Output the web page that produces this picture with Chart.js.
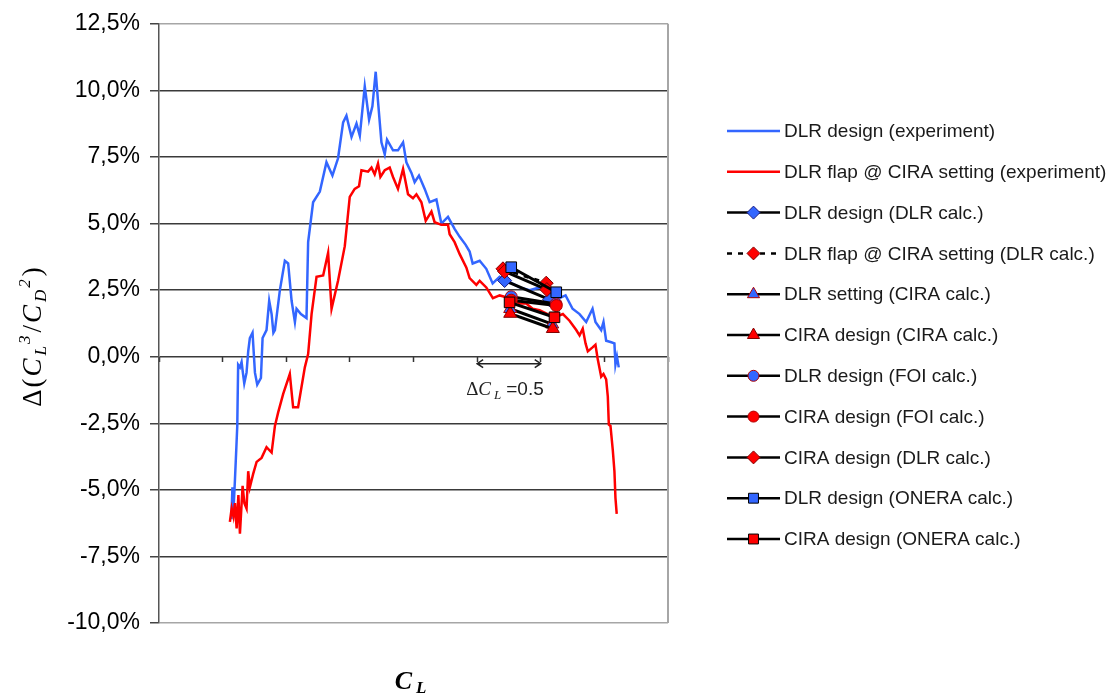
<!DOCTYPE html>
<html>
<head>
<meta charset="utf-8">
<title>Delta CL3/CD2 vs CL</title>
<script src="https://cdn.jsdelivr.net/npm/chart.js@4.4.1/dist/chart.umd.min.js"></script>
<style>
  html, body { margin: 0; padding: 0; background: #fff; }
  #wrap { width: 1115px; height: 694px; position: relative; }
</style>
</head>
<body>
<div id="wrap"><canvas id="chart"></canvas></div>
<script>
// experiment curves: CL and delta(CL^3/CD^2) in %
const dlrExpCL = [0.569,0.577,0.585,0.597,0.608,0.615,0.622,0.636,0.649,0.659,0.670,0.688,0.701,0.714,0.735,0.754,0.772,0.801,0.814,0.845,0.866,0.885,0.899,0.911,0.950,0.989,1.015,1.042,1.068,1.081,1.115,1.159,1.172,1.211,1.264,1.316,1.363,1.407,1.447,1.473,1.513,1.552,1.578,1.617,1.651,1.677,1.703,1.721,1.748,1.774,1.792,1.839,1.878,1.918,1.944,1.984,2.009,2.043,2.088,2.127,2.180,2.219,2.271,2.323,2.363,2.410,2.441,2.465,2.520,2.572,2.622,2.677,2.755,2.834,2.912,2.991,3.069,3.148,3.195,3.250,3.305,3.357,3.407,3.430,3.475,3.493,3.514,3.548,3.579,3.587,3.599,3.613];
const dlrExpVal = [-6.1,-4.9,-5.8,-4.6,-3.4,-2.6,-0.3,-0.4,-0.2,-0.6,-1.0,-0.6,0.2,0.7,0.9,-0.6,-1.05,-0.8,0.7,1.0,2.1,1.6,0.9,1.0,2.5,3.6,3.5,2.1,1.3,1.8,1.6,1.45,4.3,5.8,6.2,7.3,6.8,7.45,8.8,9.05,8.25,8.75,8.3,10.15,8.9,9.4,10.7,9.6,8.05,7.6,8.15,7.75,7.75,8.05,7.3,6.9,6.55,6.8,6.3,5.8,5.9,5.0,5.25,4.8,4.5,4.2,3.95,3.5,3.6,3.3,2.75,3.0,2.8,2.6,2.5,2.6,2.4,2.2,2.3,1.8,1.6,1.3,1.8,1.3,1.0,1.3,0.6,0.55,0.5,-0.3,0.0,-0.4];

const flapExpCL = [0.557,0.571,0.585,0.597,0.610,0.624,0.636,0.657,0.671,0.688,0.701,0.714,0.740,0.767,0.806,0.845,0.885,0.911,0.936,0.976,1.028,1.054,1.093,1.146,1.172,1.199,1.238,1.290,1.329,1.356,1.407,1.460,1.499,1.538,1.572,1.591,1.643,1.670,1.695,1.721,1.740,1.774,1.813,1.839,1.878,1.918,1.957,1.996,2.023,2.062,2.096,2.141,2.166,2.219,2.271,2.284,2.323,2.363,2.415,2.441,2.494,2.520,2.572,2.624,2.677,2.755,2.834,2.886,2.936,2.991,3.053,3.122,3.174,3.226,3.279,3.305,3.330,3.352,3.370,3.407,3.430,3.448,3.475,3.493,3.514,3.527,3.535,3.548,3.566,3.579,3.587,3.597];
const flapExpVal = [-6.2,-5.7,-6.0,-5.5,-6.45,-5.2,-6.65,-4.85,-5.5,-5.7,-4.3,-4.9,-4.4,-3.95,-3.8,-3.4,-3.6,-2.6,-2.1,-1.4,-0.65,-1.9,-1.9,-0.4,0.1,1.6,3.0,3.05,3.9,1.8,2.85,4.15,6.0,6.3,6.4,7.0,6.95,7.1,6.85,7.25,6.75,7.0,7.1,6.75,6.3,7.05,6.1,5.95,6.1,5.8,5.1,5.45,5.05,4.95,4.95,4.6,4.3,3.85,3.35,2.95,2.7,2.85,2.6,2.2,2.3,2.2,2.0,2.0,1.8,1.75,1.6,1.5,1.6,1.35,1.0,0.8,1.05,0.5,0.2,0.35,0.45,-0.1,-0.75,-0.65,-0.85,-1.5,-2.55,-2.6,-3.5,-4.3,-5.3,-5.9];

// calculations, two points each (low CL, high CL)
const calcLabels = [
  'DLR design (DLR calc.)',
  'DLR flap @ CIRA setting (DLR calc.)',
  'DLR setting (CIRA calc.)',
  'CIRA design (CIRA calc.)',
  'DLR design (FOI calc.)',
  'CIRA design (FOI calc.)',
  'CIRA design (DLR calc.)',
  'DLR design (ONERA calc.)',
  'CIRA design (ONERA calc.)'
];
const calcCL = [
  [2.716, 3.069], [2.703, 3.043], [2.760, 3.090], [2.760, 3.095], [2.768, 3.120],
  [2.768, 3.122], [2.716, 3.048], [2.768, 3.122], [2.755, 3.108]
];
const calcVal = [
  [2.86, 2.14], [3.30, 2.76], [1.80, 1.22], [1.62, 1.05], [2.25, 1.98],
  [2.12, 1.92], [3.20, 2.52], [3.36, 2.42], [2.04, 1.48]
];

const yTicks = [-10, -7.5, -5, -2.5, 0, 2.5, 5, 7.5, 10, 12.5];
const xTicks = [0, 0.5, 1, 1.5, 2, 2.5, 3, 3.5, 4];

// marker look for each calculation
const BLUE = '#3366ff', RED = '#ff0000';
const calcStyles = [
  { shape: 'rectRot', r: 7, fill: BLUE, edge: '#1a1a80' },
  { shape: 'rectRot', r: 7, fill: RED, edge: '#800000', dash: [5, 6] },
  { shape: 'triangle', r: 7.5, fill: BLUE, edge: '#b00000' },
  { shape: 'triangle', r: 7.5, fill: RED, edge: '#800000' },
  { shape: 'circle', r: 6, fill: BLUE, edge: '#b00000' },
  { shape: 'circle', r: 6, fill: RED, edge: '#b00000' },
  { shape: 'rectRot', r: 7, fill: RED, edge: '#800000' },
  { shape: 'rect', r: 7.5, fill: BLUE, edge: '#000' },
  { shape: 'rect', r: 7.5, fill: RED, edge: '#000' }
];

function pts(xs, ys) {
  return xs.map((x, i) => ({ x: x, y: ys[i] }));
}

const datasets = [
  { label: 'DLR design (experiment)', data: pts(dlrExpCL, dlrExpVal), borderColor: BLUE, borderWidth: 2.5, pointRadius: 0 },
  { label: 'DLR flap @ CIRA setting (experiment)', data: pts(flapExpCL, flapExpVal), borderColor: RED, borderWidth: 2.5, pointRadius: 0 }
];
calcLabels.forEach((lab, i) => {
  const s = calcStyles[i];
  datasets.push({
    label: lab,
    data: pts(calcCL[i], calcVal[i]),
    borderColor: '#000',
    borderWidth: 3,
    borderDash: s.dash || [],
    pointStyle: s.shape,
    pointRadius: s.r,
    pointHoverRadius: s.r,
    pointBackgroundColor: s.fill,
    pointBorderColor: s.edge,
    pointBorderWidth: 1
  });
});
// later series on top, like the spreadsheet
datasets.forEach((d, i) => { d.order = datasets.length - i; d.tension = 0; d.fill = false; });

function richText(ctx, runs, x, y, align) {
  let w = 0;
  runs.forEach(r => { ctx.font = r.font; w += ctx.measureText(r.t).width + (r.gap || 0); });
  let cx = align === 'center' ? x - w / 2 : x;
  runs.forEach(r => {
    ctx.font = r.font;
    ctx.fillText(r.t, cx, y + (r.dy || 0));
    cx += ctx.measureText(r.t).width + (r.gap || 0);
  });
}

const SERIF = '"Liberation Serif", "Times New Roman", serif';
const SANS = '"Liberation Sans", Arial, sans-serif';

const extras = {
  id: 'extras',
  afterDraw(chart) {
    const ctx = chart.ctx;
    const a = chart.chartArea;
    const xs = chart.scales.x, ys = chart.scales.y;
    ctx.save();

    // right frame of the plot area
    ctx.strokeStyle = '#a6a6a6';
    ctx.lineWidth = 2;
    ctx.beginPath();
    ctx.moveTo(a.right, a.top);
    ctx.lineTo(a.right, a.bottom);
    ctx.stroke();

    // delta CL = 0.5 arrow
    const ax1 = xs.getPixelForValue(2.5), ax2 = xs.getPixelForValue(3.0);
    const ay = ys.getPixelForValue(0) + 7;
    ctx.strokeStyle = '#222';
    ctx.lineWidth = 1.5;
    ctx.beginPath();
    ctx.moveTo(ax1, ay); ctx.lineTo(ax2, ay);
    ctx.moveTo(ax1 + 6, ay - 4); ctx.lineTo(ax1, ay); ctx.lineTo(ax1 + 6, ay + 4);
    ctx.moveTo(ax2 - 6, ay - 4); ctx.lineTo(ax2, ay); ctx.lineTo(ax2 - 6, ay + 4);
    ctx.stroke();

    ctx.fillStyle = '#222';
    ctx.textBaseline = 'alphabetic';
    richText(ctx, [
      { t: '\u0394', font: '19px ' + SERIF },
      { t: 'C', font: 'italic 19px ' + SERIF, gap: 3 },
      { t: 'L', font: 'italic 13px ' + SERIF, dy: 4, gap: 5 },
      { t: '=0.5', font: '19px ' + SANS }
    ], ax1 - 11, ay + 31, 'left');

    // axis titles
    ctx.fillStyle = '#000';
    richText(ctx, [
      { t: 'C', font: 'italic bold 26px ' + SERIF, gap: 4 },
      { t: 'L', font: 'italic bold 17px ' + SERIF, dy: 4 }
    ], (a.left + a.right) / 2 - 3, 689, 'center');

    ctx.save();
    ctx.translate(32, 337);
    ctx.rotate(-Math.PI / 2);
    richText(ctx, [
      { t: '\u0394', font: '27px ' + SERIF, gap: 2 },
      { t: '(', font: '27px ' + SERIF, gap: 2 },
      { t: 'C', font: 'italic 27px ' + SERIF, gap: 3 },
      { t: 'L', font: 'italic 17px ' + SERIF, dy: 5, gap: 2 },
      { t: '3', font: 'italic 17px ' + SERIF, dy: -11, gap: 3 },
      { t: '/', font: '27px ' + SERIF, gap: 2 },
      { t: 'C', font: 'italic 27px ' + SERIF, gap: 3 },
      { t: 'D', font: 'italic 17px ' + SERIF, dy: 5, gap: 2 },
      { t: '2', font: 'italic 17px ' + SERIF, dy: -11, gap: 3 },
      { t: ')', font: '27px ' + SERIF }
    ], 0, 9, 'center');
    ctx.restore();

    // legend on the right
    const lx0 = a.right + 59, lx1 = lx0 + 53;
    ctx.textBaseline = 'middle';
    chart.data.datasets.forEach((ds, i) => {
      const y = 131 + i * 40.8;
      ctx.strokeStyle = ds.borderColor;
      ctx.lineWidth = 2.5;
      ctx.setLineDash(ds.borderDash || []);
      ctx.beginPath();
      ctx.moveTo(lx0, y);
      ctx.lineTo(lx1, y);
      ctx.stroke();
      ctx.setLineDash([]);
      if (ds.pointRadius > 0) {
        ctx.fillStyle = ds.pointBackgroundColor;
        ctx.strokeStyle = ds.pointBorderColor;
        ctx.lineWidth = 1;
        Chart.helpers.drawPoint(ctx, { pointStyle: ds.pointStyle, radius: ds.pointRadius - 0.5, rotation: 0, borderWidth: 1 }, (lx0 + lx1) / 2, y);
      }
      ctx.fillStyle = '#1a1a1a';
      ctx.font = '19px ' + SANS;
      ctx.fillText(ds.label, lx1 + 4, y + 1);
    });

    ctx.restore();
  }
};

new Chart(document.getElementById('chart').getContext('2d'), {
  type: 'line',
  data: { datasets: datasets },
  options: {
    responsive: true,
    maintainAspectRatio: false,
    animation: false,
    events: [],
    layout: { padding: { top: 21.5, bottom: 71, left: 0, right: 447 } },
    plugins: {
      legend: { display: false },
      tooltip: { enabled: false }
    },
    scales: {
      x: {
        type: 'linear',
        min: 0,
        max: 4,
        position: { y: 0 },
        afterBuildTicks(axis) { axis.ticks = xTicks.map(v => ({ value: v })); },
        ticks: { display: false },
        grid: { drawOnChartArea: false, drawTicks: true, tickLength: 5, tickColor: '#333', tickWidth: 1.5 },
        border: { display: false }
      },
      y: {
        type: 'linear',
        min: -10,
        max: 12.5,
        afterBuildTicks(axis) { axis.ticks = yTicks.map(v => ({ value: v })); },
        afterFit(axis) { axis.width = 159; },
        ticks: {
          callback: v => v.toFixed(1).replace('.', ',') + '%',
          font: { family: SANS, size: 23 },
          color: '#000',
          padding: 10
        },
        grid: {
          color: c => (c.tick && (c.tick.value === 12.5 || c.tick.value === -10)) ? '#a6a6a6' : '#3a3a3a',
          lineWidth: 1.5,
          tickLength: 9,
          tickColor: '#444',
          tickWidth: 1.5
        },
        border: { color: '#555', width: 1.5 }
      }
    }
  },
  plugins: [extras]
});
</script>
</body>
</html>
